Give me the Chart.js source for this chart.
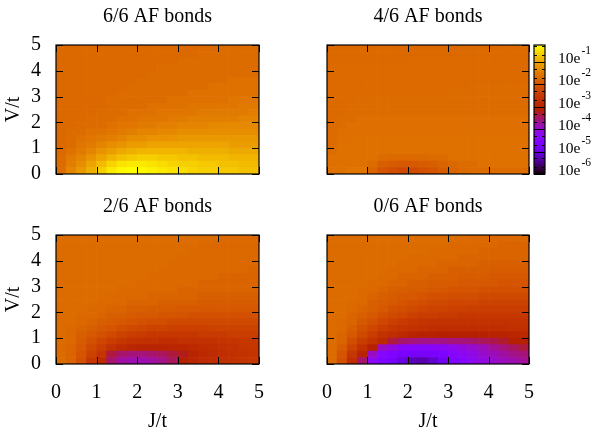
<!DOCTYPE html>
<html>
<head>
<meta charset="utf-8">
<title>AF bonds</title>
<script src="https://cdn.jsdelivr.net/npm/chart.js@4/dist/chart.umd.min.js"></script>
<style>
html, body { margin: 0; padding: 0; background: #fff; overflow: hidden; width: 594px; height: 428px; }
canvas { position: absolute; display: block; }
</style>
</head>
<body>
<canvas id="panel66" width="275" height="190" style="left:0;top:0"></canvas>
<canvas id="panel46" width="256" height="190" style="left:290px;top:0"></canvas>
<canvas id="panel26" width="275" height="244" style="left:0;top:190px"></canvas>
<canvas id="panel06" width="256" height="244" style="left:290px;top:190px"></canvas>
<canvas id="colorbar" width="69" height="190" style="left:525px;top:0"></canvas>
<script>
const axisTicks = [0, 1, 2, 3, 4, 5];
const jLabels = ['0.125','0.375','0.625','0.875','1.125','1.375','1.625','1.875','2.125','2.375','2.625','2.875','3.125','3.375','3.625','3.875','4.125','4.375','4.625','4.875'];
const vEdges = [0,0.25,0.5,0.75,1,1.25,1.5,1.75,2,2.25,2.5,2.75,3,3.25,3.5,3.75,4,4.25,4.5,4.75,5];
const cbDecades = [-6, -5, -4, -3, -2, -1];
const cbMinor = [-5.7,-5.3,-4.7,-4.3,-3.7,-3.3,-2.7,-2.3,-1.7,-1.3,-0.7,-0.3];
const cbMin = -6;
const cbMax = -0.24;

// log10 of the weight, one row per V cell, bottom row first
const bonds66 = [
[-1.67,-1.38,-1.15,-.92,-.63,-.40,-.29,-.24,-.29,-.35,-.40,-.46,-.52,-.58,-.63,-.63,-.69,-.69,-.75,-.75],
[-1.67,-1.44,-1.27,-1.04,-.81,-.58,-.46,-.40,-.40,-.46,-.52,-.58,-.63,-.63,-.69,-.69,-.75,-.75,-.81,-.81],
[-1.67,-1.50,-1.38,-1.21,-1.04,-.86,-.75,-.69,-.63,-.63,-.69,-.69,-.75,-.75,-.81,-.81,-.81,-.86,-.86,-.86],
[-1.73,-1.61,-1.50,-1.38,-1.21,-1.10,-.98,-.92,-.86,-.86,-.86,-.86,-.86,-.92,-.92,-.92,-.92,-.98,-.98,-.98],
[-1.73,-1.67,-1.56,-1.50,-1.38,-1.27,-1.21,-1.10,-1.10,-1.04,-1.04,-1.04,-1.04,-1.04,-1.04,-1.04,-1.04,-1.10,-1.10,-1.10],
[-1.73,-1.67,-1.61,-1.56,-1.50,-1.44,-1.38,-1.27,-1.27,-1.21,-1.21,-1.21,-1.15,-1.15,-1.15,-1.15,-1.15,-1.15,-1.15,-1.15],
[-1.73,-1.67,-1.67,-1.61,-1.61,-1.56,-1.50,-1.44,-1.38,-1.38,-1.33,-1.33,-1.27,-1.27,-1.27,-1.27,-1.27,-1.27,-1.27,-1.27],
[-1.73,-1.73,-1.67,-1.67,-1.67,-1.61,-1.56,-1.56,-1.50,-1.50,-1.44,-1.44,-1.38,-1.38,-1.38,-1.33,-1.33,-1.33,-1.33,-1.33],
[-1.73,-1.73,-1.73,-1.67,-1.67,-1.67,-1.61,-1.61,-1.56,-1.56,-1.56,-1.50,-1.50,-1.44,-1.44,-1.44,-1.44,-1.44,-1.38,-1.38],
[-1.73,-1.73,-1.73,-1.73,-1.67,-1.67,-1.67,-1.61,-1.61,-1.61,-1.56,-1.56,-1.56,-1.56,-1.50,-1.50,-1.50,-1.50,-1.50,-1.44],
[-1.73,-1.73,-1.73,-1.73,-1.73,-1.67,-1.67,-1.67,-1.67,-1.61,-1.61,-1.61,-1.61,-1.56,-1.56,-1.56,-1.56,-1.56,-1.50,-1.50],
[-1.73,-1.73,-1.73,-1.73,-1.73,-1.67,-1.67,-1.67,-1.67,-1.67,-1.67,-1.61,-1.61,-1.61,-1.61,-1.61,-1.61,-1.56,-1.56,-1.56],
[-1.73,-1.73,-1.73,-1.73,-1.73,-1.73,-1.67,-1.67,-1.67,-1.67,-1.67,-1.67,-1.67,-1.61,-1.61,-1.61,-1.61,-1.61,-1.61,-1.61],
[-1.73,-1.73,-1.73,-1.73,-1.73,-1.73,-1.73,-1.67,-1.67,-1.67,-1.67,-1.67,-1.67,-1.67,-1.67,-1.61,-1.61,-1.61,-1.61,-1.61],
[-1.73,-1.73,-1.73,-1.73,-1.73,-1.73,-1.73,-1.73,-1.67,-1.67,-1.67,-1.67,-1.67,-1.67,-1.67,-1.67,-1.67,-1.61,-1.61,-1.61],
[-1.73,-1.73,-1.73,-1.73,-1.73,-1.73,-1.73,-1.73,-1.73,-1.67,-1.67,-1.67,-1.67,-1.67,-1.67,-1.67,-1.67,-1.67,-1.67,-1.67],
[-1.73,-1.73,-1.73,-1.73,-1.73,-1.73,-1.73,-1.73,-1.73,-1.73,-1.67,-1.67,-1.67,-1.67,-1.67,-1.67,-1.67,-1.67,-1.67,-1.67],
[-1.73,-1.73,-1.73,-1.73,-1.73,-1.73,-1.73,-1.73,-1.73,-1.73,-1.73,-1.73,-1.67,-1.67,-1.67,-1.67,-1.67,-1.67,-1.67,-1.67],
[-1.73,-1.73,-1.73,-1.73,-1.73,-1.73,-1.73,-1.73,-1.73,-1.73,-1.73,-1.73,-1.73,-1.73,-1.67,-1.67,-1.67,-1.67,-1.67,-1.67],
[-1.73,-1.73,-1.73,-1.73,-1.73,-1.73,-1.73,-1.73,-1.73,-1.73,-1.73,-1.73,-1.73,-1.73,-1.73,-1.73,-1.67,-1.67,-1.67,-1.67]
];

const bonds46 = [
[-1.61,-1.61,-1.56,-1.56,-1.79,-2.02,-2.13,-2.19,-2.19,-2.08,-2.02,-1.90,-1.79,-1.73,-1.67,-1.67,-1.67,-1.67,-1.67,-1.67],
[-1.61,-1.61,-1.61,-1.61,-1.67,-1.85,-1.90,-1.96,-1.96,-1.90,-1.85,-1.79,-1.73,-1.67,-1.67,-1.61,-1.61,-1.61,-1.61,-1.61],
[-1.61,-1.61,-1.61,-1.61,-1.61,-1.67,-1.73,-1.73,-1.73,-1.73,-1.67,-1.67,-1.61,-1.61,-1.61,-1.61,-1.61,-1.61,-1.61,-1.61],
[-1.67,-1.61,-1.61,-1.61,-1.61,-1.61,-1.61,-1.61,-1.61,-1.61,-1.61,-1.61,-1.61,-1.61,-1.61,-1.61,-1.61,-1.61,-1.61,-1.61],
[-1.67,-1.61,-1.61,-1.61,-1.61,-1.61,-1.61,-1.61,-1.61,-1.61,-1.61,-1.61,-1.61,-1.61,-1.61,-1.61,-1.61,-1.61,-1.61,-1.61],
[-1.67,-1.64,-1.64,-1.61,-1.61,-1.61,-1.61,-1.61,-1.61,-1.61,-1.61,-1.61,-1.61,-1.61,-1.61,-1.61,-1.61,-1.61,-1.61,-1.61],
[-1.67,-1.64,-1.64,-1.64,-1.64,-1.64,-1.64,-1.64,-1.64,-1.64,-1.64,-1.64,-1.64,-1.64,-1.64,-1.64,-1.64,-1.64,-1.64,-1.64],
[-1.70,-1.67,-1.64,-1.64,-1.64,-1.64,-1.64,-1.64,-1.64,-1.64,-1.64,-1.64,-1.64,-1.64,-1.64,-1.64,-1.64,-1.64,-1.64,-1.64],
[-1.70,-1.67,-1.67,-1.64,-1.64,-1.64,-1.64,-1.64,-1.64,-1.64,-1.64,-1.64,-1.64,-1.64,-1.64,-1.64,-1.64,-1.64,-1.64,-1.64],
[-1.70,-1.70,-1.67,-1.67,-1.67,-1.67,-1.67,-1.67,-1.67,-1.67,-1.67,-1.67,-1.67,-1.67,-1.67,-1.67,-1.67,-1.67,-1.67,-1.67],
[-1.70,-1.70,-1.67,-1.67,-1.67,-1.67,-1.67,-1.67,-1.67,-1.67,-1.67,-1.67,-1.67,-1.67,-1.67,-1.67,-1.67,-1.67,-1.67,-1.67],
[-1.70,-1.70,-1.70,-1.67,-1.67,-1.67,-1.67,-1.67,-1.67,-1.67,-1.67,-1.67,-1.67,-1.67,-1.67,-1.67,-1.67,-1.67,-1.67,-1.67],
[-1.70,-1.70,-1.70,-1.70,-1.70,-1.70,-1.70,-1.70,-1.70,-1.70,-1.70,-1.70,-1.67,-1.67,-1.67,-1.67,-1.67,-1.67,-1.67,-1.67],
[-1.70,-1.70,-1.70,-1.70,-1.70,-1.70,-1.70,-1.70,-1.70,-1.70,-1.70,-1.70,-1.70,-1.70,-1.67,-1.67,-1.67,-1.67,-1.67,-1.67],
[-1.70,-1.70,-1.70,-1.70,-1.70,-1.70,-1.70,-1.70,-1.70,-1.70,-1.70,-1.70,-1.70,-1.70,-1.70,-1.70,-1.70,-1.70,-1.70,-1.70],
[-1.70,-1.70,-1.70,-1.70,-1.70,-1.70,-1.70,-1.70,-1.70,-1.70,-1.70,-1.70,-1.70,-1.70,-1.70,-1.70,-1.70,-1.70,-1.70,-1.70],
[-1.70,-1.70,-1.70,-1.70,-1.70,-1.70,-1.70,-1.70,-1.70,-1.70,-1.70,-1.70,-1.70,-1.70,-1.70,-1.70,-1.70,-1.70,-1.70,-1.70],
[-1.72,-1.72,-1.72,-1.72,-1.72,-1.72,-1.72,-1.72,-1.70,-1.70,-1.70,-1.70,-1.70,-1.70,-1.70,-1.70,-1.70,-1.70,-1.70,-1.70],
[-1.72,-1.72,-1.72,-1.72,-1.72,-1.72,-1.72,-1.72,-1.72,-1.72,-1.72,-1.72,-1.72,-1.70,-1.70,-1.70,-1.70,-1.70,-1.70,-1.70],
[-1.72,-1.72,-1.72,-1.72,-1.72,-1.72,-1.72,-1.72,-1.72,-1.72,-1.72,-1.72,-1.72,-1.72,-1.72,-1.72,-1.72,-1.70,-1.70,-1.70]
];

const bonds26 = [
[-1.67,-1.79,-2.08,-2.54,-2.83,-3.52,-3.75,-3.81,-3.81,-3.75,-3.63,-3.46,-3.12,-2.94,-2.83,-2.77,-2.71,-2.65,-2.60,-2.54],
[-1.67,-1.79,-2.02,-2.31,-2.60,-3.35,-3.52,-3.58,-3.58,-3.52,-3.46,-3.35,-3.23,-3.00,-2.88,-2.83,-2.77,-2.71,-2.65,-2.60],
[-1.73,-1.79,-1.96,-2.19,-2.42,-2.65,-2.83,-2.94,-3.00,-3.00,-3.00,-2.94,-2.94,-2.88,-2.83,-2.77,-2.71,-2.65,-2.60,-2.54],
[-1.67,-1.73,-1.90,-2.08,-2.25,-2.42,-2.54,-2.65,-2.71,-2.71,-2.77,-2.77,-2.71,-2.71,-2.65,-2.65,-2.60,-2.60,-2.54,-2.54],
[-1.67,-1.73,-1.85,-1.96,-2.08,-2.19,-2.31,-2.42,-2.48,-2.54,-2.54,-2.54,-2.54,-2.54,-2.48,-2.48,-2.48,-2.42,-2.42,-2.42],
[-1.67,-1.73,-1.79,-1.85,-1.96,-2.02,-2.13,-2.19,-2.25,-2.31,-2.31,-2.36,-2.36,-2.36,-2.36,-2.31,-2.31,-2.31,-2.31,-2.31],
[-1.67,-1.67,-1.73,-1.79,-1.85,-1.90,-1.96,-2.02,-2.08,-2.13,-2.13,-2.19,-2.19,-2.19,-2.19,-2.19,-2.19,-2.19,-2.19,-2.19],
[-1.67,-1.67,-1.73,-1.73,-1.79,-1.85,-1.85,-1.90,-1.96,-1.96,-2.02,-2.02,-2.02,-2.08,-2.08,-2.08,-2.08,-2.08,-2.08,-2.08],
[-1.67,-1.67,-1.67,-1.73,-1.73,-1.79,-1.79,-1.85,-1.85,-1.90,-1.90,-1.90,-1.96,-1.96,-1.96,-1.96,-1.96,-1.96,-1.96,-1.96],
[-1.67,-1.67,-1.67,-1.67,-1.73,-1.73,-1.73,-1.79,-1.79,-1.79,-1.85,-1.85,-1.85,-1.85,-1.90,-1.90,-1.90,-1.90,-1.90,-1.90],
[-1.67,-1.67,-1.67,-1.67,-1.67,-1.73,-1.73,-1.73,-1.73,-1.79,-1.79,-1.79,-1.79,-1.79,-1.85,-1.85,-1.85,-1.85,-1.85,-1.85],
[-1.67,-1.67,-1.67,-1.67,-1.67,-1.67,-1.73,-1.73,-1.73,-1.73,-1.73,-1.73,-1.79,-1.79,-1.79,-1.79,-1.79,-1.79,-1.79,-1.79],
[-1.67,-1.67,-1.67,-1.67,-1.67,-1.67,-1.67,-1.67,-1.73,-1.73,-1.73,-1.73,-1.73,-1.73,-1.79,-1.79,-1.79,-1.79,-1.79,-1.79],
[-1.67,-1.67,-1.67,-1.67,-1.67,-1.67,-1.67,-1.67,-1.67,-1.73,-1.73,-1.73,-1.73,-1.73,-1.73,-1.73,-1.79,-1.79,-1.79,-1.79],
[-1.67,-1.67,-1.67,-1.67,-1.67,-1.67,-1.67,-1.67,-1.67,-1.67,-1.73,-1.73,-1.73,-1.73,-1.73,-1.73,-1.73,-1.73,-1.73,-1.79],
[-1.67,-1.67,-1.67,-1.67,-1.67,-1.67,-1.67,-1.67,-1.67,-1.67,-1.67,-1.73,-1.73,-1.73,-1.73,-1.73,-1.73,-1.73,-1.73,-1.73],
[-1.67,-1.67,-1.67,-1.67,-1.67,-1.67,-1.67,-1.67,-1.67,-1.67,-1.67,-1.67,-1.73,-1.73,-1.73,-1.73,-1.73,-1.73,-1.73,-1.73],
[-1.67,-1.67,-1.67,-1.67,-1.67,-1.67,-1.67,-1.67,-1.67,-1.67,-1.67,-1.67,-1.67,-1.73,-1.73,-1.73,-1.73,-1.73,-1.73,-1.73],
[-1.67,-1.67,-1.67,-1.67,-1.67,-1.67,-1.67,-1.67,-1.67,-1.67,-1.67,-1.67,-1.67,-1.67,-1.73,-1.73,-1.73,-1.73,-1.73,-1.73],
[-1.67,-1.67,-1.67,-1.67,-1.67,-1.67,-1.67,-1.67,-1.67,-1.67,-1.67,-1.67,-1.67,-1.67,-1.67,-1.67,-1.73,-1.73,-1.73,-1.73]
];

const bonds06 = [
[-1.67,-2.08,-2.77,-3.52,-4.27,-4.56,-4.73,-5.02,-5.25,-5.31,-5.13,-4.85,-4.56,-4.44,-4.21,-4.10,-3.98,-3.87,-3.81,-3.69],
[-1.67,-2.02,-2.54,-3.00,-3.92,-4.44,-4.56,-4.67,-4.73,-4.73,-4.67,-4.62,-4.44,-4.27,-4.15,-3.98,-3.87,-3.75,-3.63,-3.58],
[-1.67,-1.90,-2.31,-2.71,-3.12,-3.92,-4.10,-4.38,-4.44,-4.44,-4.38,-4.33,-4.21,-4.10,-3.98,-3.87,-3.69,-3.58,-3.46,-3.35],
[-1.67,-1.79,-2.13,-2.42,-2.65,-2.88,-3.35,-3.52,-3.58,-3.63,-3.63,-3.63,-3.58,-3.58,-3.52,-3.46,-3.40,-3.29,-3.12,-3.06],
[-1.67,-1.79,-1.96,-2.19,-2.42,-2.65,-2.77,-2.88,-3.00,-3.06,-3.06,-3.12,-3.12,-3.12,-3.12,-3.06,-3.00,-3.00,-2.94,-2.88],
[-1.67,-1.73,-1.85,-2.08,-2.25,-2.42,-2.54,-2.60,-2.65,-2.71,-2.77,-2.77,-2.77,-2.77,-2.77,-2.77,-2.77,-2.77,-2.71,-2.71],
[-1.67,-1.73,-1.79,-1.96,-2.08,-2.25,-2.36,-2.48,-2.54,-2.60,-2.65,-2.65,-2.65,-2.65,-2.65,-2.65,-2.65,-2.65,-2.65,-2.65],
[-1.67,-1.67,-1.79,-1.85,-1.96,-2.08,-2.19,-2.25,-2.36,-2.42,-2.42,-2.48,-2.48,-2.54,-2.54,-2.54,-2.54,-2.54,-2.54,-2.54],
[-1.67,-1.67,-1.73,-1.79,-1.85,-1.96,-2.08,-2.13,-2.19,-2.25,-2.31,-2.31,-2.36,-2.36,-2.42,-2.42,-2.42,-2.42,-2.42,-2.42],
[-1.67,-1.67,-1.73,-1.73,-1.85,-1.90,-1.96,-2.02,-2.08,-2.13,-2.19,-2.19,-2.25,-2.25,-2.25,-2.31,-2.31,-2.31,-2.31,-2.31],
[-1.67,-1.67,-1.67,-1.73,-1.79,-1.85,-1.90,-1.96,-1.96,-2.02,-2.08,-2.08,-2.13,-2.13,-2.13,-2.19,-2.19,-2.19,-2.19,-2.19],
[-1.67,-1.67,-1.67,-1.73,-1.73,-1.79,-1.85,-1.85,-1.90,-1.90,-1.96,-1.96,-2.02,-2.02,-2.02,-2.08,-2.08,-2.08,-2.08,-2.08],
[-1.67,-1.67,-1.67,-1.67,-1.73,-1.73,-1.79,-1.79,-1.85,-1.85,-1.90,-1.90,-1.90,-1.96,-1.96,-1.96,-1.96,-2.02,-2.02,-2.02],
[-1.67,-1.67,-1.67,-1.67,-1.67,-1.73,-1.73,-1.79,-1.79,-1.79,-1.85,-1.85,-1.85,-1.90,-1.90,-1.90,-1.96,-1.96,-1.96,-1.96],
[-1.67,-1.67,-1.67,-1.67,-1.67,-1.67,-1.73,-1.73,-1.73,-1.79,-1.79,-1.79,-1.85,-1.85,-1.85,-1.85,-1.90,-1.90,-1.90,-1.90],
[-1.67,-1.67,-1.67,-1.67,-1.67,-1.67,-1.67,-1.73,-1.73,-1.73,-1.73,-1.79,-1.79,-1.79,-1.79,-1.85,-1.85,-1.85,-1.85,-1.85],
[-1.67,-1.67,-1.67,-1.67,-1.67,-1.67,-1.67,-1.67,-1.73,-1.73,-1.73,-1.73,-1.73,-1.79,-1.79,-1.79,-1.79,-1.79,-1.79,-1.79],
[-1.67,-1.67,-1.67,-1.67,-1.67,-1.67,-1.67,-1.67,-1.67,-1.67,-1.73,-1.73,-1.73,-1.73,-1.73,-1.79,-1.79,-1.79,-1.79,-1.79],
[-1.67,-1.67,-1.67,-1.67,-1.67,-1.67,-1.67,-1.67,-1.67,-1.67,-1.67,-1.67,-1.73,-1.73,-1.73,-1.73,-1.73,-1.79,-1.79,-1.79],
[-1.67,-1.67,-1.67,-1.67,-1.67,-1.67,-1.67,-1.67,-1.67,-1.67,-1.67,-1.67,-1.67,-1.67,-1.73,-1.73,-1.73,-1.73,-1.73,-1.73]
];

const serif = 'Liberation Serif';
const labelFont = { family: serif, size: 20 };

// gnuplot's default pm3d palette (rgbformulae 7,5,15)
function paletteColor(logValue) {
    const x = Math.min(1, Math.max(0, (logValue - cbMin) / (cbMax - cbMin)));
    const r = Math.round(255 * Math.sqrt(x));
    const g = Math.round(255 * x * x * x);
    const b = Math.round(255 * Math.max(0, Math.sin(2 * Math.PI * x)));
    return `rgb(${r},${g},${b})`;
}

// frame plus inward ticks on all four sides
const frameTicks = {
    id: 'frameTicks',
    afterDatasetsDraw(chart) {
        const { ctx, chartArea: a, scales } = chart;
        const len = 7;
        ctx.save();
        ctx.strokeStyle = '#000';
        ctx.lineWidth = 1;
        ctx.beginPath();
        axisTicks.forEach(t => {
            const x = Math.round(scales.xTicks.getPixelForValue(t)) + 0.5;
            ctx.moveTo(x, a.bottom); ctx.lineTo(x, a.bottom - len);
            ctx.moveTo(x, a.top); ctx.lineTo(x, a.top + len);
            const y = Math.round(scales.y.getPixelForValue(t)) + 0.5;
            ctx.moveTo(a.left, y); ctx.lineTo(a.left + len, y);
            ctx.moveTo(a.right, y); ctx.lineTo(a.right - len, y);
        });
        ctx.stroke();
        ctx.lineWidth = 1.2;
        ctx.strokeRect(a.left, a.top, a.right - a.left, a.bottom - a.top);
        ctx.restore();
    }
};

function makePanel(id, grid, title, left, bottom, rightPad, showX, showY) {
    const datasets = grid.map((row, r) => ({
        data: row.map(() => [vEdges[r], vEdges[r + 1]]),
        backgroundColor: row.map(paletteColor),
        borderWidth: 0,
        barPercentage: 1,
        categoryPercentage: 1
    }));
    new Chart(document.getElementById(id), {
        type: 'bar',
        data: { labels: jLabels, datasets: datasets },
        plugins: [frameTicks],
        options: {
            responsive: false,
            animation: false,
            events: [],
            layout: { padding: { right: rightPad } },
            plugins: {
                legend: { display: false },
                tooltip: { enabled: false },
                title: { display: true, fullSize: false, text: title, color: '#000', font: { family: serif, size: 20, weight: 'normal' }, padding: { top: 5, bottom: 16 } }
            },
            scales: {
                x: { display: false, stacked: true },
                xTicks: {
                    type: 'linear', position: 'bottom', axis: 'x', min: 0, max: 5, offset: false,
                    grid: { display: false, drawTicks: false, offset: false },
                    border: { display: false },
                    ticks: { display: showX, autoSkip: false, stepSize: 1, padding: 17, color: '#000', font: labelFont, maxRotation: 0 },
                    title: { display: showX, text: 'J/t', color: '#000', font: labelFont, padding: 0 },
                    afterFit: s => { s.height = bottom; s.paddingLeft = 0; s.paddingRight = 0; }
                },
                y: {
                    min: 0, max: 5,
                    grid: { display: false, drawTicks: false },
                    border: { display: false },
                    ticks: { display: showY, autoSkip: false, stepSize: 1, padding: 15, color: '#000', font: labelFont },
                    title: { display: showY, text: 'V/t', color: '#000', font: labelFont, padding: { top: 2, bottom: 0 } },
                    afterFit: s => { s.width = left; s.paddingTop = 0; s.paddingBottom = 0; }
                }
            }
        }
    });
}

makePanel('panel66', bonds66, '6/6 AF bonds', 56, 16, 16, false, true);
makePanel('panel46', bonds46, '4/6 AF bonds', 37, 16, 17, false, false);
makePanel('panel26', bonds26, '2/6 AF bonds', 56, 70, 16, true, true);
makePanel('panel06', bonds06, '0/6 AF bonds', 37, 70, 17, true, false);

// colour key: one floating bar filled with the palette, labels with real superscripts
const colorbarMarks = {
    id: 'colorbarMarks',
    afterDatasetsDraw(chart) {
        const { ctx, chartArea: a, scales } = chart;
        ctx.save();
        ctx.strokeStyle = '#000';
        ctx.lineWidth = 1;
        ctx.beginPath();
        cbMinor.forEach(v => {
            const y = Math.round(scales.y.getPixelForValue(v)) + 0.5;
            ctx.moveTo(a.left, y); ctx.lineTo(a.left + 3, y);
            ctx.moveTo(a.right, y); ctx.lineTo(a.right - 3, y);
        });
        cbDecades.forEach(v => {
            const y = Math.round(scales.y.getPixelForValue(v)) + 0.5;
            ctx.moveTo(a.left, y); ctx.lineTo(a.right, y);
        });
        ctx.stroke();
        ctx.lineWidth = 1.2;
        ctx.strokeRect(a.left, a.top, a.right - a.left, a.bottom - a.top);
        ctx.fillStyle = '#000';
        ctx.textAlign = 'left';
        ctx.textBaseline = 'alphabetic';
        cbDecades.forEach(v => {
            const y = scales.y.getPixelForValue(v) + 1;
            ctx.font = `15.5px "${serif}"`;
            ctx.fillText('10e', a.right + 13, y);
            const w = ctx.measureText('10e').width;
            ctx.font = `11.5px "${serif}"`;
            ctx.fillText(String(v), a.right + 13 + w + 1, y - 9);
        });
        ctx.restore();
    }
};

new Chart(document.getElementById('colorbar'), {
    type: 'bar',
    data: {
        labels: ['key'],
        datasets: [{
            data: [[cbMin, cbMax]],
            borderWidth: 0,
            barPercentage: 1,
            categoryPercentage: 1,
            backgroundColor: c => {
                const area = c.chart.chartArea;
                if (!area) return '#000';
                const grad = c.chart.ctx.createLinearGradient(0, area.bottom, 0, area.top);
                for (let i = 0; i <= 100; i++) {
                    grad.addColorStop(i / 100, paletteColor(cbMin + (cbMax - cbMin) * i / 100));
                }
                return grad;
            }
        }]
    },
    plugins: [colorbarMarks],
    options: {
        responsive: false,
        animation: false,
        events: [],
        layout: { padding: { left: 9, top: 45, bottom: 16 } },
        plugins: { legend: { display: false }, tooltip: { enabled: false }, title: { display: false } },
        scales: {
            x: { display: false },
            y: {
                position: 'right', min: cbMin, max: cbMax,
                grid: { display: false, drawTicks: false },
                border: { display: false },
                ticks: { display: false },
                afterFit: s => { s.width = 49; }
            }
        }
    }
});
</script>
</body>
</html>
